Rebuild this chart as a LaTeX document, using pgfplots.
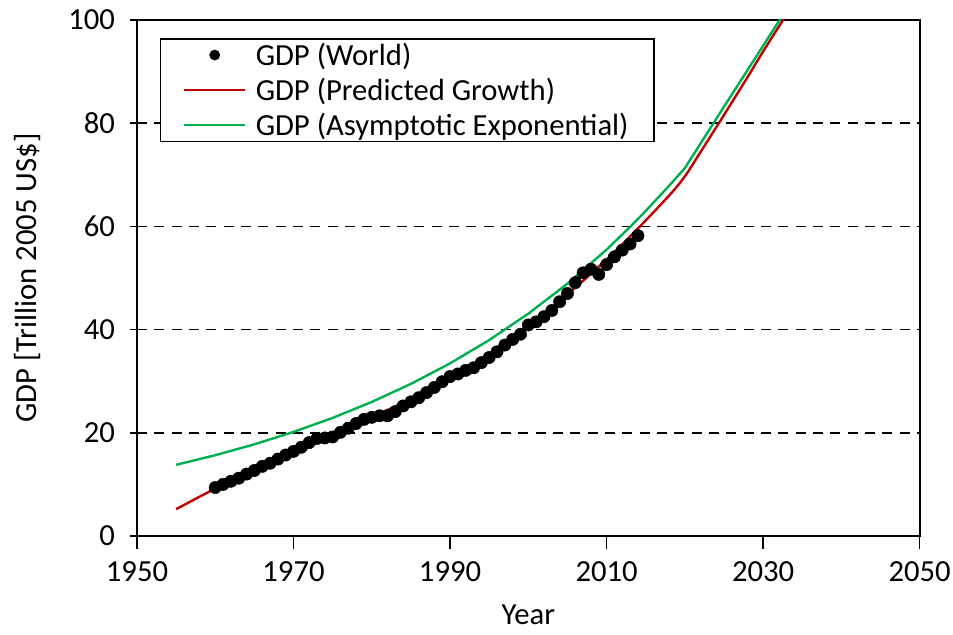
\documentclass[border=0pt]{standalone}
\usepackage{fontspec}
\setmainfont{Carlito}
\usepackage{pgfplots}
\pgfplotsset{compat=1.18}
\definecolor{gdpred}{RGB}{192,0,0}
\definecolor{gdpgreen}{RGB}{0,176,80}
\begin{document}
\begin{tikzpicture}
\useasboundingbox (-102.75pt,-74.25pt) rectangle (612pt,402pt);
\begin{axis}[
  at={(0pt,0pt)}, anchor=south west,
  scale only axis, width=587pt, height=387pt,
  xmin=1950, xmax=2050, ymin=0, ymax=100,
  xtick={1950,1970,...,2050}, ytick={0,20,...,100},
  minor tick num=0,
  tick pos=left,
  xtick align=outside, ytick align=center,
  major tick length=10pt,
  axis line style={line width=1.4pt},
  every tick/.style={black, line width=1.2pt},
  /pgf/number format/assume math mode=true,
  /pgf/number format/1000 sep={},
  font=\fontsize{23}{27}\selectfont,
  xticklabel style={yshift=-6pt},
  yticklabel style={xshift=-8pt},
  ymajorgrids,
  grid style={black, line width=1.3pt, dash pattern=on 7.5pt off 5.5pt},
  xlabel={Year}, ylabel={GDP [Trillion 2005 US\$]},
  every axis x label/.style={at={(axis description cs:0.5,-0.153)}, anchor=center},
  every axis y label/.style={at={(axis description cs:-0.1405,0.5)}, anchor=center, rotate=90},
  legend style={at={(axis description cs:0.029,0.965)}, anchor=north west,
    draw=black, line width=1.2pt, fill=white, font=\fontsize{23}{27}\selectfont,
    row sep=4pt, inner xsep=17pt, inner ysep=1pt,
    nodes={inner sep=2pt}},
  legend cell align=left,
  legend image code/.code={\draw[mark repeat=2,mark phase=2,#1] plot coordinates {(0cm,0cm) (0.8cm,0cm) (1.6cm,0cm)}; \path (1.78cm,0cm);},
]
\addlegendimage{only marks, mark=*, mark size=3.4pt, black}
\addlegendentry{GDP (World)}
\addlegendimage{gdpred, line width=1.8pt}
\addlegendentry{GDP (Predicted Growth)}
\addlegendimage{gdpgreen, line width=1.8pt}
\addlegendentry{GDP (Asymptotic Exponential)}

\addplot[gdpred, line width=1.8pt, smooth, forget plot] coordinates {
(1955,5.2) (1960,9.2) (1965,12.9) (1970,16.4) (1975,19.7) (1980,23.1)
(1985,26.5) (1990,30.6) (1995,35.2) (2000,40.6) (2005,46.8) (2010,53.6)
(2014,59.6) (2018,66.0) (2020,69.7) (2022,74.4) (2025,81.6) (2028,88.9)
(2030,93.9) (2034,103.5)};
\addplot[gdpgreen, line width=1.8pt, forget plot] coordinates {
(1955,13.8) (1960,15.66) (1965,17.77) (1970,20.17) (1975,22.89) (1980,25.98)
(1985,29.48) (1990,33.46) (1995,37.97) (2000,43.09) (2005,48.90) (2010,55.5)
(2013,59.9) (2015,63.0) (2018,67.9) (2020,71.3) (2025,83.2) (2030,95.0) (2034,104.5)};
\addplot[only marks, mark=*, mark size=4.6pt, black, forget plot] coordinates {
(1960,9.4) (1961,10.0) (1962,10.6) (1963,11.2) (1964,12.0) (1965,12.7)
(1966,13.5) (1967,14.1) (1968,14.9) (1969,15.7) (1970,16.4) (1971,17.2)
(1972,18.1) (1973,18.9) (1974,19.0) (1975,19.2) (1976,20.1) (1977,20.9)
(1978,21.8) (1979,22.6) (1980,23.0) (1981,23.3) (1982,23.3) (1983,24.1)
(1984,25.2) (1985,26.0) (1986,26.8) (1987,27.8) (1988,28.8) (1989,29.9)
(1990,30.9) (1991,31.4) (1992,32.1) (1993,32.6) (1994,33.6) (1995,34.6)
(1996,35.7) (1997,37.0) (1998,38.1) (1999,39.1) (2000,40.9) (2001,41.5)
(2002,42.5) (2003,43.7) (2004,45.4) (2005,47.0) (2006,49.1) (2007,51.0)
(2008,51.7) (2009,50.7) (2010,52.6) (2011,54.1) (2012,55.4) (2013,56.6)
(2014,58.2)};
\end{axis}
\end{tikzpicture}
\end{document}
